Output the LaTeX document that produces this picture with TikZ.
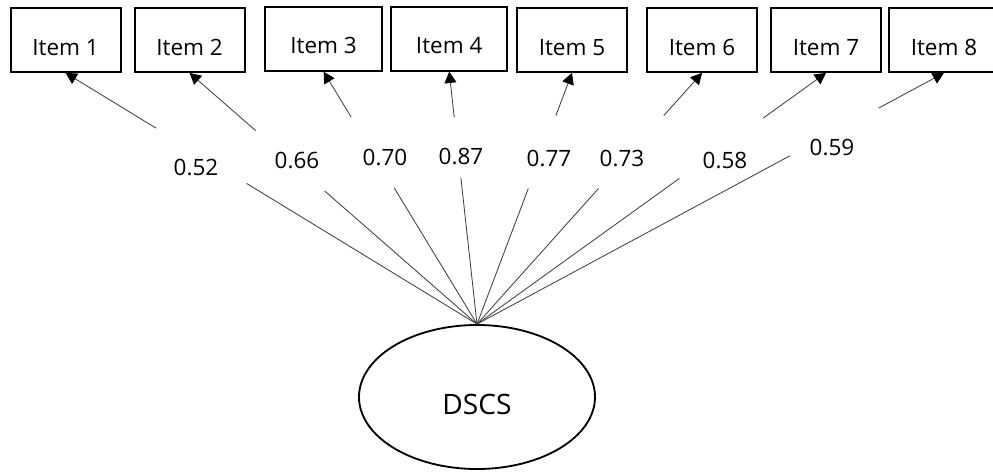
\documentclass[tikz,border=0pt]{standalone}
\usepackage{fontspec}
\setmainfont{Open Sans}
\usepackage{tikz}
\usetikzlibrary{arrows.meta, positioning, calc, shapes.geometric}

\begin{document}
\begin{tikzpicture}[>={Triangle[length=8pt, width=8.5pt, color=black]},
  item/.style={draw, line width=1.3pt, minimum width=2.75cm, minimum height=1.6cm,
               text height=0.75cm, text depth=0pt, font=\fontsize{16}{19}\selectfont},
  latent/.style={draw, ellipse, line width=1.3pt, minimum width=5.9cm, minimum height=3.6cm,
                 text height=0.85cm, text depth=0pt, font=\fontsize{20}{24}\selectfont},
  coef/.style={inner sep=0pt, font=\fontsize{16}{19}\selectfont},
  load/.style={line width=0.6pt, black!75}]
  \useasboundingbox (0,0) rectangle (24.825,-11.8);

  % Observed items
  \node[item] (i1) at (1.64,-1.0) {Item 1};
  \node[item] (i2) at (4.74,-1.0) {Item 2};
  \node[item, minimum width=2.93cm] (i3) at (8.09,-0.97) {Item 3};
  \node[item, minimum width=2.9cm] (i4) at (11.23,-0.97) {Item 4};
  \node[item] (i5) at (14.3,-1.0) {Item 5};
  \node[item] (i6) at (17.55,-1.0) {Item 6};
  \node[item] (i7) at (20.65,-1.0) {Item 7};
  \node[item] (i8) at (23.6,-1.0) {Item 8};

  % Latent factor
  \node[latent] (dscs) at (11.925,-9.925) {DSCS};

  % Loadings
  \node[coef] (c1) at (4.9,-4.175) {0.52};
  \node[coef] (c2) at (7.425,-4.0) {0.66};
  \node[coef] (c3) at (9.625,-3.925) {0.70};
  \node[coef] (c4) at (11.525,-3.9) {0.87};
  \node[coef] (c5) at (13.725,-3.95) {0.77};
  \node[coef] (c6) at (15.55,-3.95) {0.73};
  \node[coef] (c7) at (18.125,-4.0) {0.58};
  \node[coef] (c8) at (20.8,-3.7) {0.59};

  % Paths from factor to items, broken around the loadings
  \draw[load] (dscs.north) -- ($(dscs.north)!0.56!(i1.south)$);
  \draw[load, ->] ($(dscs.north)!0.78!(i1.south)$) -- (i1.south);
  \draw[load] (dscs.north) -- ($(dscs.north)!0.53!(i2.south)$);
  \draw[load, ->] ($(dscs.north)!0.77!(i2.south)$) -- (i2.south);
  \draw[load] (dscs.north) -- ($(dscs.north)!0.54!(i3.south)$);
  \draw[load, ->] ($(dscs.north)!0.82!(i3.south)$) -- (i3.south);
  \draw[load] (dscs.north) -- ($(dscs.north)!0.58!(i4.south)$);
  \draw[load, ->] ($(dscs.north)!0.82!(i4.south)$) -- (i4.south);
  \draw[load] (dscs.north) -- ($(dscs.north)!0.54!(i5.south)$);
  \draw[load, ->] ($(dscs.north)!0.83!(i5.south)$) -- (i5.south);
  \draw[load] (dscs.north) -- ($(dscs.north)!0.54!(i6.south)$);
  \draw[load, ->] ($(dscs.north)!0.83!(i6.south)$) -- (i6.south);
  \draw[load] (dscs.north) -- ($(dscs.north)!0.58!(i7.south)$);
  \draw[load, ->] ($(dscs.north)!0.82!(i7.south)$) -- (i7.south);
  \draw[load] (dscs.north) -- ($(dscs.north)!0.67!(i8.south)$);
  \draw[load, ->] ($(dscs.north)!0.86!(i8.south)$) -- (i8.south);
\end{tikzpicture}
\end{document}
